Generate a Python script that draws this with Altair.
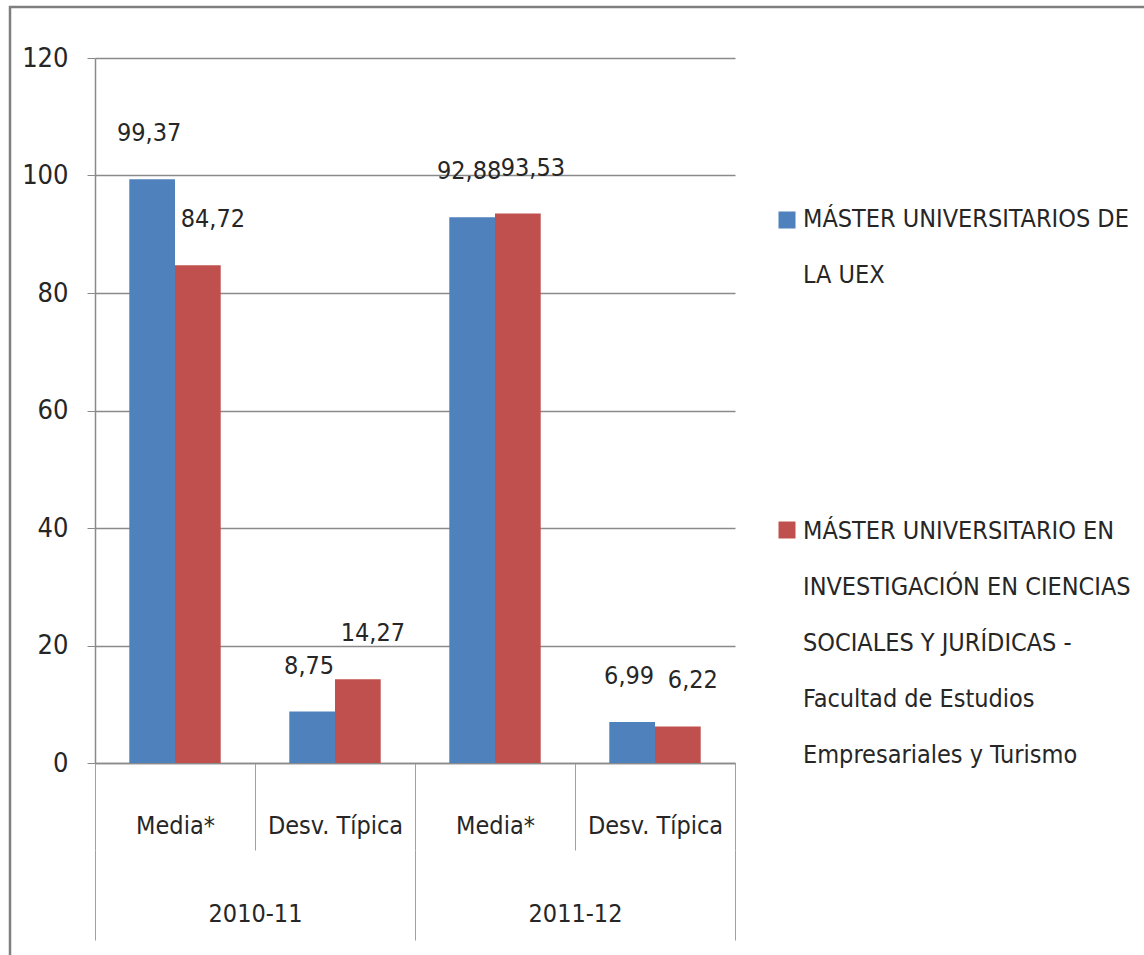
import altair as alt
import pandas as pd

# ---- data ----
years = ["2010-11", "2010-11", "2011-12", "2011-12"]
measures = ["Media*", "Desv. Típica", "Media*", "Desv. Típica"]
series = [
    "MÁSTER UNIVERSITARIOS DE LA UEX",
    "MÁSTER UNIVERSITARIO EN INVESTIGACIÓN EN CIENCIAS SOCIALES Y JURÍDICAS - Facultad de Estudios Empresariales y Turismo",
]
legend_text = [
    "MÁSTER UNIVERSITARIOS DE\nLA UEX",
    "MÁSTER UNIVERSITARIO EN\nINVESTIGACIÓN EN CIENCIAS\nSOCIALES Y JURÍDICAS -\nFacultad de Estudios\nEmpresariales y Turismo",
]
uex_values = [99.37, 8.75, 92.88, 6.99]
inv_values = [84.72, 14.27, 93.53, 6.22]
colors = ["#4F81BD", "#C0504D"]

FONT = "'Liberation Sans Narrow', 'DejaVu Sans Condensed', 'Roboto Condensed', Roboto, sans-serif"
TXT = "#262626"
GRID = "#8a8a8a"
FS_Y = 27
FS_X = 25
FS_LBL = 25
FS_LEG = 25

rows = []
for s, vals in zip(series, [uex_values, inv_values]):
    for y, m, v in zip(years, measures, vals):
        rows.append({"key": f"{y}|{m}", "year": y, "measure": m, "series": s,
                     "value": v, "label": f"{v:.2f}".replace(".", ",")})
df = pd.DataFrame(rows)
keys = [f"{y}|{m}" for y, m in zip(years, measures)]
year_df = pd.DataFrame({"year": ["2010-11", "2011-12"]})
legend_df = pd.DataFrame({"series": series, "text": legend_text})

color = alt.Color("series:N", scale=alt.Scale(domain=series, range=colors), legend=None)

x_inner = alt.X(
    "key:N",
    sort=keys,
    scale=alt.Scale(paddingInner=0, paddingOuter=0),
    axis=alt.Axis(
        title=None, orient="bottom", labelExpr="split(datum.label, '|')[1]",
        tickBand="extent", tickSize=87, tickColor="#a0a0a0", tickWidth=1,
        domainColor=GRID, domainWidth=1.5, labelPadding=-25, labelBaseline="middle",
        labelFontSize=FS_X, labelColor=TXT, labelFont=FONT, labelAngle=0, grid=False,
    ),
)
x_off = alt.XOffset("series:N", sort=series, scale=alt.Scale(paddingInner=0, paddingOuter=0.75))
y_enc = alt.Y(
    "value:Q",
    scale=alt.Scale(domain=[0, 120], nice=False),
    axis=alt.Axis(
        title=None, values=[0, 20, 40, 60, 80, 100, 120], tickSize=8, tickColor=GRID,
        domainColor=GRID, domainWidth=1.5, gridColor=GRID, gridWidth=1.5,
        labelFontSize=FS_Y, labelColor=TXT, labelFont=FONT, labelPadding=19,
    ),
)

base = alt.Chart(df)
bars = base.mark_bar().encode(x=x_inner, xOffset=x_off, y=y_enc, color=color)
label_layers = []
for s, dx in zip(series, [-3, 15]):
    label_layers.append(
        base.transform_filter(alt.datum.series == s)
        .mark_text(fontSize=FS_LBL, font=FONT, color=TXT, baseline="middle", dy=-46, dx=dx)
        .encode(x=x_inner, xOffset=x_off, y=alt.Y("value:Q"), text="label:N")
    )
main = alt.layer(bars, *label_layers)

year_layer = alt.Chart(year_df).mark_point(opacity=0).encode(
    x=alt.X(
        "year:N",
        scale=alt.Scale(type="band", paddingInner=0, paddingOuter=0),
        axis=alt.Axis(
            title=None, orient="bottom", offset=87, domain=False, tickBand="extent",
            tickSize=90, tickColor="#a0a0a0", tickWidth=1, labelPadding=-27,
            labelBaseline="middle", labelFontSize=FS_X, labelColor=TXT, labelFont=FONT,
            labelAngle=0, grid=False,
        ),
    ),
    y=alt.value(0),
)

frame = alt.Chart(pd.DataFrame({"f": [0]})).mark_rect(
    fill=None, stroke="#7f7f7f", strokeWidth=2.5
).encode(x=alt.value(-85), x2=alt.value(1060), y=alt.value(-51), y2=alt.value(910))

leg_layers = []
for i, (sq_y, tx_y) in enumerate([(162, 169), (472, 481)]):
    d = legend_df.iloc[[i]]
    leg_layers.append(
        alt.Chart(d).mark_square(size=289, opacity=1).encode(
            x=alt.value(692), y=alt.value(sq_y), color=color)
    )
    leg_layers.append(
        alt.Chart(d).mark_text(align="left", baseline="alphabetic", lineBreak="\n",
                               lineHeight=56, fontSize=FS_LEG, font=FONT, color=TXT).encode(
            x=alt.value(708), y=alt.value(tx_y), text="text:N")
    )

chart = alt.layer(main, year_layer, frame, *leg_layers).resolve_scale(x="independent").properties(
    width=640, height=705,
    autosize=alt.AutoSizeParams(type="none"),
    padding={"left": 95, "top": 58, "right": 409, "bottom": 192},
).configure(font=FONT).configure_view(stroke=None)

chart.save("out.html", embed_options={"renderer": "svg", "actions": False})
